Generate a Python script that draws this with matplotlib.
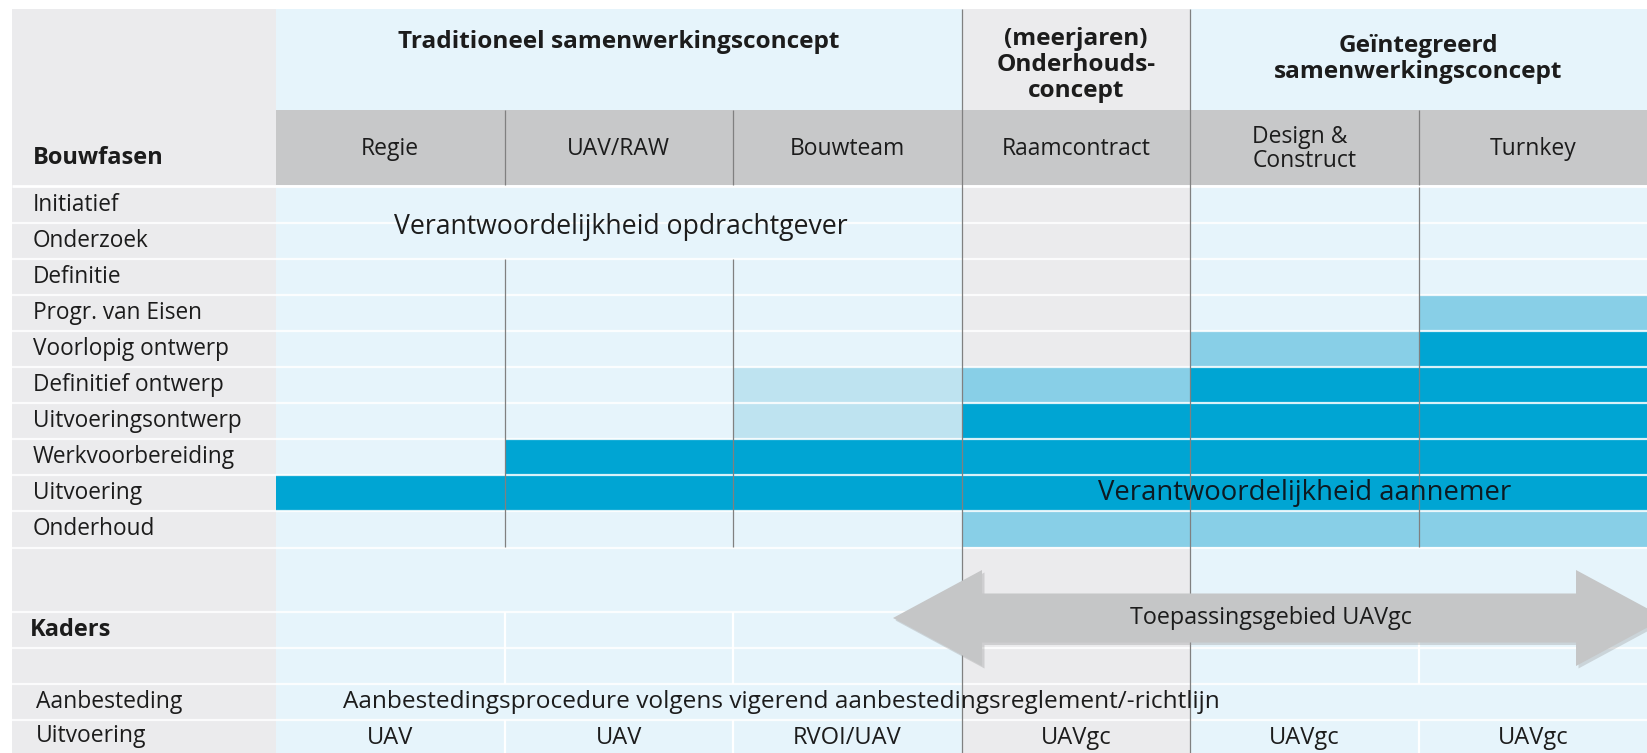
import matplotlib
matplotlib.use("Agg")
import matplotlib.pyplot as plt
from matplotlib.patches import Polygon
import numpy as np

plt.rcParams['font.family'] = ['Open Sans', 'DejaVu Sans']

# ---------------- data ----------------
concepts = ["Traditioneel samenwerkingsconcept",
            "(meerjaren)\nOnderhouds-\nconcept",
            "Geïntegreerd\nsamenwerkingsconcept"]
concept_first = [0, 3, 4]
concept_last = [3, 4, 6]
contracts = ["Regie", "UAV/RAW", "Bouwteam", "Raamcontract", "Design &\nConstruct", "Turnkey"]
phases = ["Initiatief", "Onderzoek", "Definitie", "Progr. van Eisen", "Voorlopig ontwerp",
          "Definitief ontwerp", "Uitvoeringsontwerp", "Werkvoorbereiding", "Uitvoering", "Onderhoud"]
# responsibility level per phase: 0 = opdrachtgever, 1 = light, 2 = medium, 3 = aannemer
level_regie = [0, 0, 0, 0, 0, 0, 0, 0, 3, 0]
level_uavraw = [0, 0, 0, 0, 0, 0, 0, 3, 3, 0]
level_bouwteam = [0, 0, 0, 0, 0, 1, 1, 3, 3, 0]
level_raam = [0, 0, 0, 0, 0, 2, 3, 3, 3, 2]
level_dc = [0, 0, 0, 0, 2, 3, 3, 3, 3, 2]
level_turnkey = [0, 0, 0, 2, 3, 3, 3, 3, 3, 2]
kader_labels = ["", "Kaders", "", "Aanbesteding", "Uitvoering"]
uitvoering_kaders = ["UAV", "UAV", "RVOI/UAV", "UAVgc", "UAVgc", "UAVgc"]
aanbesteding_text = "Aanbestedingsprocedure volgens vigerend aanbestedingsreglement/-richtlijn"
top_text = "Verantwoordelijkheid opdrachtgever"
bottom_text = "Verantwoordelijkheid aannemer"
arrow_text = "Toepassingsgebied UAVgc"

levels = [level_regie, level_uavraw, level_bouwteam, level_raam, level_dc, level_turnkey]

# ---------------- style / layout ----------------
W, H = 1647, 753
C_LBLUE = "#e6f4fb"
C_LGRAY = "#ebebed"
C_BAND = "#c7c8c9"
C_LEVEL = {1: "#bee3f0", 2: "#88cfe7", 3: "#00a5d3"}
C_LINE = "#808080"
C_TEXT = "#1c1c1c"
C_ARROW = "#c5c6c7"

X0, XL = 12, 276
colw = (W - XL) / 6
edges = XL + colw * np.arange(7)
centers = (edges[:-1] + edges[1:]) / 2
Y0, YG, YH, YR, RH = 9, 110, 185, 187, 36
row_tops = YR + RH * np.arange(len(phases))
YP_END = row_tops[-1] + RH
k_tops = np.array([548, 612, 648, 684, 720])
k_h = np.array([64, 36, 36, 36, 33])

fig = plt.figure(figsize=(W / 100, H / 100), dpi=100)
ax = fig.add_axes([0, 0, 1, 1])
ax.set_xlim(0, W)
ax.set_ylim(H, 0)
ax.axis("off")

# backgrounds
ax.bar(X0, H - Y0, width=XL - X0, bottom=Y0, align="edge", color=C_LGRAY, lw=0, zorder=1)
for j in range(6):
    ax.bar(edges[j], H - Y0, width=colw, bottom=Y0, align="edge",
           color=C_LGRAY if j == 3 else C_LBLUE, lw=0, zorder=1)
ax.bar(XL, YH - YG, width=W - XL, bottom=YG, align="edge", color=C_BAND, lw=0, zorder=1)

# responsibility cells
for j, lv in enumerate(levels):
    for i, v in enumerate(lv):
        if v > 0:
            ax.bar(edges[j], RH, width=colw, bottom=row_tops[i], align="edge",
                   color=C_LEVEL[v], lw=0, zorder=2)

# white separators
ax.hlines(YH + 1, X0, W, color="white", lw=2, zorder=3)
for t in list(row_tops[1:]) + [YP_END + 0.5] + list(k_tops[1:]):
    ax.hlines(t, X0, W, color="white", lw=1.6, alpha=0.85, zorder=3)
for r in [1, 2, 4]:
    for e in [edges[1], edges[2], edges[5]]:
        ax.vlines(e, k_tops[r], k_tops[r] + k_h[r], color="white", lw=1.6, zorder=3)

# dark vertical dividers
for e in [edges[3], edges[4]]:
    ax.vlines(e, Y0, H, color=C_LINE, lw=0.9, zorder=4)
for e in [edges[1], edges[2]]:
    ax.vlines(e, YG, YH, color=C_LINE, lw=0.9, zorder=4)
    ax.vlines(e, row_tops[2], YP_END, color=C_LINE, lw=0.9, zorder=4)
ax.vlines(edges[5], YG, YH, color=C_LINE, lw=0.9, zorder=4)
ax.vlines(edges[5], YR, YP_END, color=C_LINE, lw=0.9, zorder=4)

# arrow
ay, hh, sh = 618, 48, 24.5
ltip, lbase = 893, 982
rbase = 1576
rtip = rbase + (lbase - ltip)
pts = [(ltip, ay), (lbase, ay - hh), (lbase, ay - sh), (rbase, ay - sh), (rbase, ay - hh),
       (rtip, ay), (rbase, ay + hh), (rbase, ay + sh), (lbase, ay + sh), (lbase, ay + hh)]
shadow = Polygon([(x + 2.5, y + 2.5) for x, y in pts], closed=True, color="#9a9a9a",
                 alpha=0.35, lw=0, zorder=5)
ax.add_patch(shadow)
ax.add_patch(Polygon(pts, closed=True, color=C_ARROW, lw=0, zorder=6))
ax.text((lbase + rbase) / 2 - 8, ay, arrow_text, ha="center", va="center",
        fontsize=16.8, color=C_TEXT, zorder=7)

# header texts
for name, a, b in zip(concepts, concept_first, concept_last):
    cx = (edges[a] + edges[b]) / 2
    if name.count("\n") == 2:
        cy = 65
    elif "\n" in name:
        cy = 59
    else:
        cy = 42
    ax.text(cx, cy, name, ha="center", va="center",
            fontsize=17.6, fontweight="bold", color=C_TEXT, linespacing=1.12, zorder=7)
for j, name in enumerate(contracts):
    ax.text(centers[j], (YG + YH) / 2 + 1, name, ha="center", va="center",
            fontsize=16.5, color=C_TEXT, multialignment="left", linespacing=1.0, zorder=7)
ax.text(33, 158, "Bouwfasen", ha="left", va="center", fontsize=17,
        fontweight="bold", color=C_TEXT, zorder=7)

# phase labels
for i, p in enumerate(phases):
    ax.text(33, row_tops[i] + RH / 2, p, ha="left", va="center", fontsize=16.3,
            color=C_TEXT, zorder=7)

ax.text((edges[0] + edges[3]) / 2 + 2, row_tops[1] + 4, top_text, ha="center",
        va="center", fontsize=19.2, color=C_TEXT, zorder=7)
ax.text(centers[4], row_tops[8] + RH / 2, bottom_text, ha="center", va="center",
        fontsize=19.8, color="#0d1a22", zorder=7)

# kaders section
for r, lab in enumerate(kader_labels):
    if lab:
        ax.text(30 if lab == "Kaders" else 36, k_tops[r] + k_h[r] / 2, lab,
                ha="left", va="center", fontsize=17 if lab == "Kaders" else 16.5,
                color=C_TEXT, fontweight="bold" if lab == "Kaders" else "normal", zorder=7)
ax.text(343, k_tops[3] + k_h[3] / 2, aanbesteding_text, ha="left", va="center",
        fontsize=17.6, color=C_TEXT, zorder=7)
for j, t in enumerate(uitvoering_kaders):
    ax.text(centers[j], k_tops[4] + k_h[4] / 2 + 1, t, ha="center", va="center",
            fontsize=17, color=C_TEXT, zorder=7)

fig.savefig("out.png", dpi=100)
